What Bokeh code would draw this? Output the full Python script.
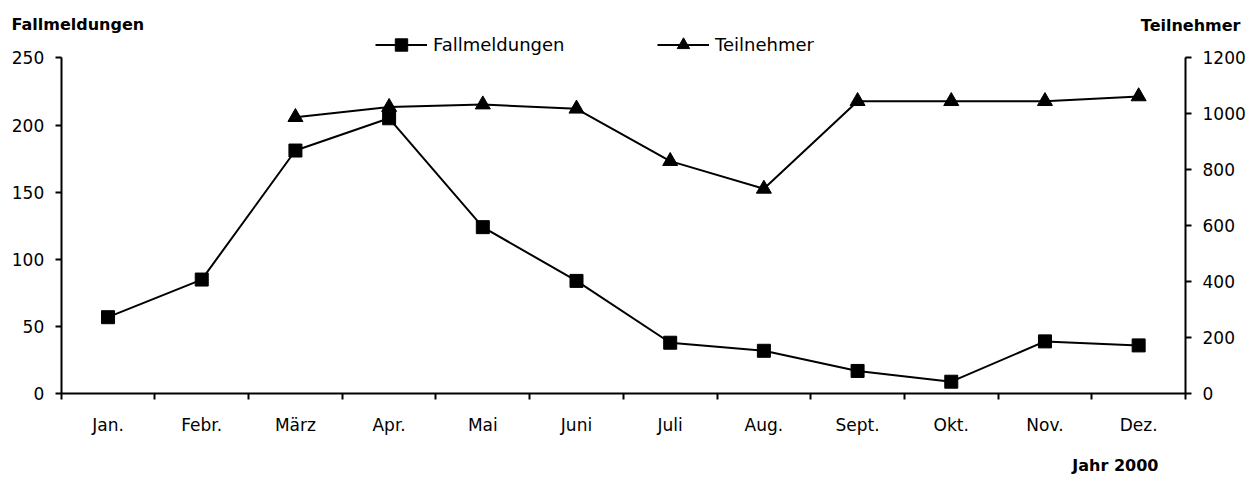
from bokeh.plotting import figure
from bokeh.models import (Range1d, LinearAxis, FixedTicker, Legend, LegendItem, Label)
from bokeh.embed import file_html
from bokeh.resources import INLINE

months = ["Jan.", "Febr.", "März", "Apr.", "Mai", "Juni", "Juli", "Aug.", "Sept.", "Okt.", "Nov.", "Dez."]
fallmeldungen = [57, 85, 181, 205, 124, 84, 38, 32, 17, 9, 39, 36]
teilnehmer = [None, None, 988, 1024, 1033, 1018, 831, 732, 1045, 1045, 1045, 1062]
left_ticks = [0, 50, 100, 150, 200, 250]
right_ticks = [0, 200, 400, 600, 800, 1000, 1200]

FONT = "DejaVu Sans"
W, H = 1252, 475
# axes box in canvas pixels
AX_L, AX_R, AX_T, AX_B = 60.7, 1185.0, 57.3, 393.3
NX = len(months)
LMAX, RMAX = 250.0, 1200.0

sx = (AX_R - AX_L) / NX
x_start = -AX_L / sx
x_end = NX + (W - AX_R) / sx
ly = (AX_B - AX_T) / LMAX
ry = (AX_B - AX_T) / RMAX

x = [i + 0.5 for i in range(NX)]
xt = [x[i] for i in range(NX) if teilnehmer[i] is not None]
yt = [v for v in teilnehmer if v is not None]

p = figure(width=W, height=H, output_backend="svg", toolbar_location=None,
           x_range=Range1d(x_start, x_end),
           y_range=Range1d(-(H - AX_B) / ly, LMAX + AX_T / ly),
           min_border=0, min_border_left=0, min_border_right=0, min_border_top=0, min_border_bottom=0,
           x_axis_type=None, y_axis_type=None)
p.title.visible = False
p.outline_line_color = None
p.xgrid.visible = False
p.ygrid.visible = False
p.extra_y_ranges = {"right": Range1d(-(H - AX_B) / ry, RMAX + AX_T / ry)}

# x axis
xax = LinearAxis(ticker=FixedTicker(ticks=x, minor_ticks=list(range(0, NX + 1))),
                 fixed_location=0, bounds=(0, NX))
xax.major_label_overrides = {xi: m for xi, m in zip(x, months)}
xax.major_tick_out = 0
xax.major_tick_in = 0
xax.minor_tick_out = 6
xax.minor_tick_in = 0
xax.minor_tick_line_color = "black"
xax.minor_tick_line_width = 2
xax.axis_line_width = 2
xax.axis_line_color = "black"
xax.major_label_text_font = FONT
xax.major_label_text_font_size = "17px"
xax.major_label_text_color = "black"
xax.major_label_standoff = 15
p.add_layout(xax, "below")

def yaxis(ticks, loc, top, rng=None):
    kw = {}
    if rng:
        kw["y_range_name"] = rng
    ax = LinearAxis(ticker=FixedTicker(ticks=ticks, minor_ticks=[]), fixed_location=loc,
                    bounds=(0, top), **kw)
    ax.major_tick_out = 6
    ax.major_tick_in = 0
    ax.major_tick_line_width = 2
    ax.major_tick_line_color = "black"
    ax.axis_line_width = 2
    ax.axis_line_color = "black"
    ax.major_label_text_font = FONT
    ax.major_label_text_font_size = "17px"
    ax.major_label_text_color = "black"
    ax.major_label_standoff = 11
    return ax

p.add_layout(yaxis(left_ticks, 0, LMAX), "left")
p.add_layout(yaxis(right_ticks, NX, RMAX, "right"), "right")

l1 = p.line(x, fallmeldungen, line_color="black", line_width=2)
s1 = p.scatter(x, fallmeldungen, marker="square", size=13, fill_color="black", line_color="black")
l2 = p.line(xt, yt, line_color="black", line_width=2, y_range_name="right")
s2 = p.scatter(xt, yt, marker="triangle", size=15, fill_color="black", line_color="black", y_range_name="right")

LEG_CY = 44
GH = 31
def mk_legend(label, rends, left):
    lg = Legend(items=[LegendItem(label=label, renderers=rends)], location=(left, H - LEG_CY - GH / 2),
                orientation="horizontal", padding=0, margin=0, border_line_alpha=0,
                background_fill_alpha=0, glyph_width=52, glyph_height=GH, label_standoff=6,
                label_text_font=FONT, label_text_font_size="18px", label_text_color="black",
                label_height=18)
    p.add_layout(lg, "center")

mk_legend("Fallmeldungen", [l1, s1], 375)
mk_legend("Teilnehmer", [l2, s2], 657)

for txt, lx, base, align in [("Fallmeldungen", 11, 24, "left"),
                             ("Teilnehmer", 1240, 25, "right"),
                             ("Jahr 2000", 1158, 464.5, "right")]:
    p.add_layout(Label(x=lx, y=H - base, x_units="screen", y_units="screen", text=txt,
                       text_font=FONT, text_font_style="bold", text_font_size="16px",
                       text_align=align, text_baseline="alphabetic", text_color="black"))

open("out.html", "w").write(file_html(p, INLINE))
